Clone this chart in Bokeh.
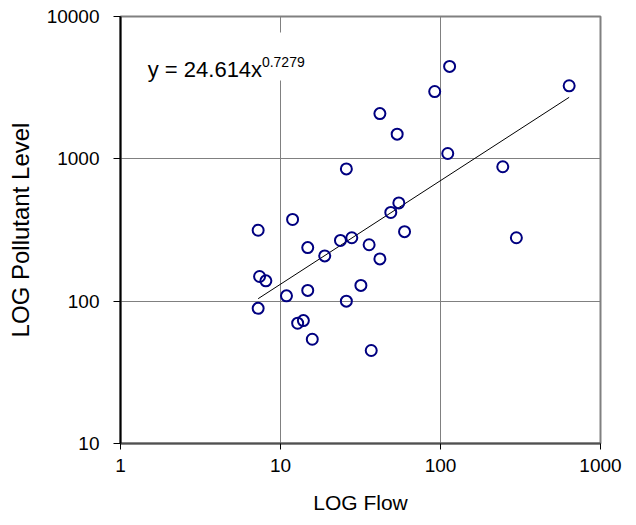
from bokeh.plotting import figure
from bokeh.models import FixedTicker, Label, BoxAnnotation
from bokeh.embed import file_html
from bokeh.resources import INLINE
import numpy as np

# ---- data ----
flow = [114, 92, 637, 41.8, 53.6, 111, 25.8, 245, 54.9, 48.9, 11.9, 7.25, 59.6,
        298, 27.9, 23.7, 35.8, 14.8, 18.9, 41.8, 7.4, 8.1, 31.8, 14.8, 10.9,
        25.8, 7.25, 13.9, 12.8, 15.8, 36.9]
level = [4460, 2970, 3260, 2080, 1490, 1090, 850, 880, 490, 420, 375, 315, 308,
         279, 279, 267, 249, 238, 208, 198, 149, 139, 129, 119, 109,
         100, 89, 73, 70, 54, 45]
fit_a = 24.614
fit_b = 0.7279
x_ticks = [1, 10, 100, 1000]
y_ticks = [10, 100, 1000, 10000]
x_tick_labels = ["1", "10", "100", "1000"]
y_tick_labels = ["10", "100", "1000", "10000"]

FONT = "Liberation Sans"

p = figure(width=628, height=517, x_axis_type="log", y_axis_type="log",
           x_range=(1, 1000), y_range=(10, 10000),
           output_backend="svg", toolbar_location=None,
           min_border_left=120, min_border_top=16, min_border_right=28,
           min_border_bottom=74)

p.outline_line_color = "#808080"
p.outline_line_width = 2
p.background_fill_color = "white"
p.border_fill_color = "white"

p.xaxis.ticker = FixedTicker(ticks=x_ticks, minor_ticks=[])
p.yaxis.ticker = FixedTicker(ticks=y_ticks, minor_ticks=[])
p.xaxis.major_label_overrides = {t: s for t, s in zip(x_ticks, x_tick_labels)}
p.yaxis.major_label_overrides = {t: s for t, s in zip(y_ticks, y_tick_labels)}

for ax in (p.xaxis, p.yaxis):
    ax.major_tick_in = 0
    ax.minor_tick_line_color = None
    ax.major_tick_line_color = "black"
    ax.major_label_text_font = FONT
    ax.major_label_text_font_size = "19px"
    ax.major_label_text_color = "black"
    ax.axis_label_text_font = FONT
    ax.axis_label_text_font_style = "normal"
    ax.axis_label_text_color = "black"

p.xaxis.major_tick_out = 6
p.yaxis.major_tick_out = 7
p.xaxis.axis_line_color = "#505050"
p.xaxis.axis_line_width = 2
p.yaxis.axis_line_color = "black"
p.yaxis.axis_line_width = 2
p.xaxis.major_label_standoff = 9
p.yaxis.major_label_standoff = 14
p.xaxis.axis_label = "LOG Flow"
p.yaxis.axis_label = "LOG Pollutant Level"
p.xaxis.axis_label_text_font_size = "21px"
p.yaxis.axis_label_text_font_size = "24px"
p.xaxis.axis_label_standoff = 16
p.yaxis.axis_label_standoff = 10

p.xgrid.grid_line_color = "#808080"
p.ygrid.grid_line_color = "#808080"
p.xgrid.grid_line_width = 1
p.ygrid.grid_line_width = 1

# white box behind the equation
p.add_layout(BoxAnnotation(left=1.334, right=14.3, bottom=3549, top=7719,
                           fill_color="white", fill_alpha=1.0, line_color=None,
                           level="underlay"))

# trend line
xf = np.array([min(flow), max(flow)])
yf = fit_a * xf ** fit_b
p.line(xf, yf, line_color="black", line_width=1)

# points
p.scatter(flow, level, marker="circle", size=11, fill_color=None,
          line_color="#000080", line_width=2)

p.add_layout(Label(x=1.48, y=4242, text="y = 24.614x", text_font=FONT,
                   text_font_size="22px", text_color="black",
                   text_baseline="alphabetic", text_align="left"))
p.add_layout(Label(x=7.65, y=4754, text="0.7279", text_font=FONT,
                   text_font_size="14px", text_color="black",
                   text_baseline="alphabetic", text_align="left"))

open("out.html", "w").write(file_html(p, INLINE))
